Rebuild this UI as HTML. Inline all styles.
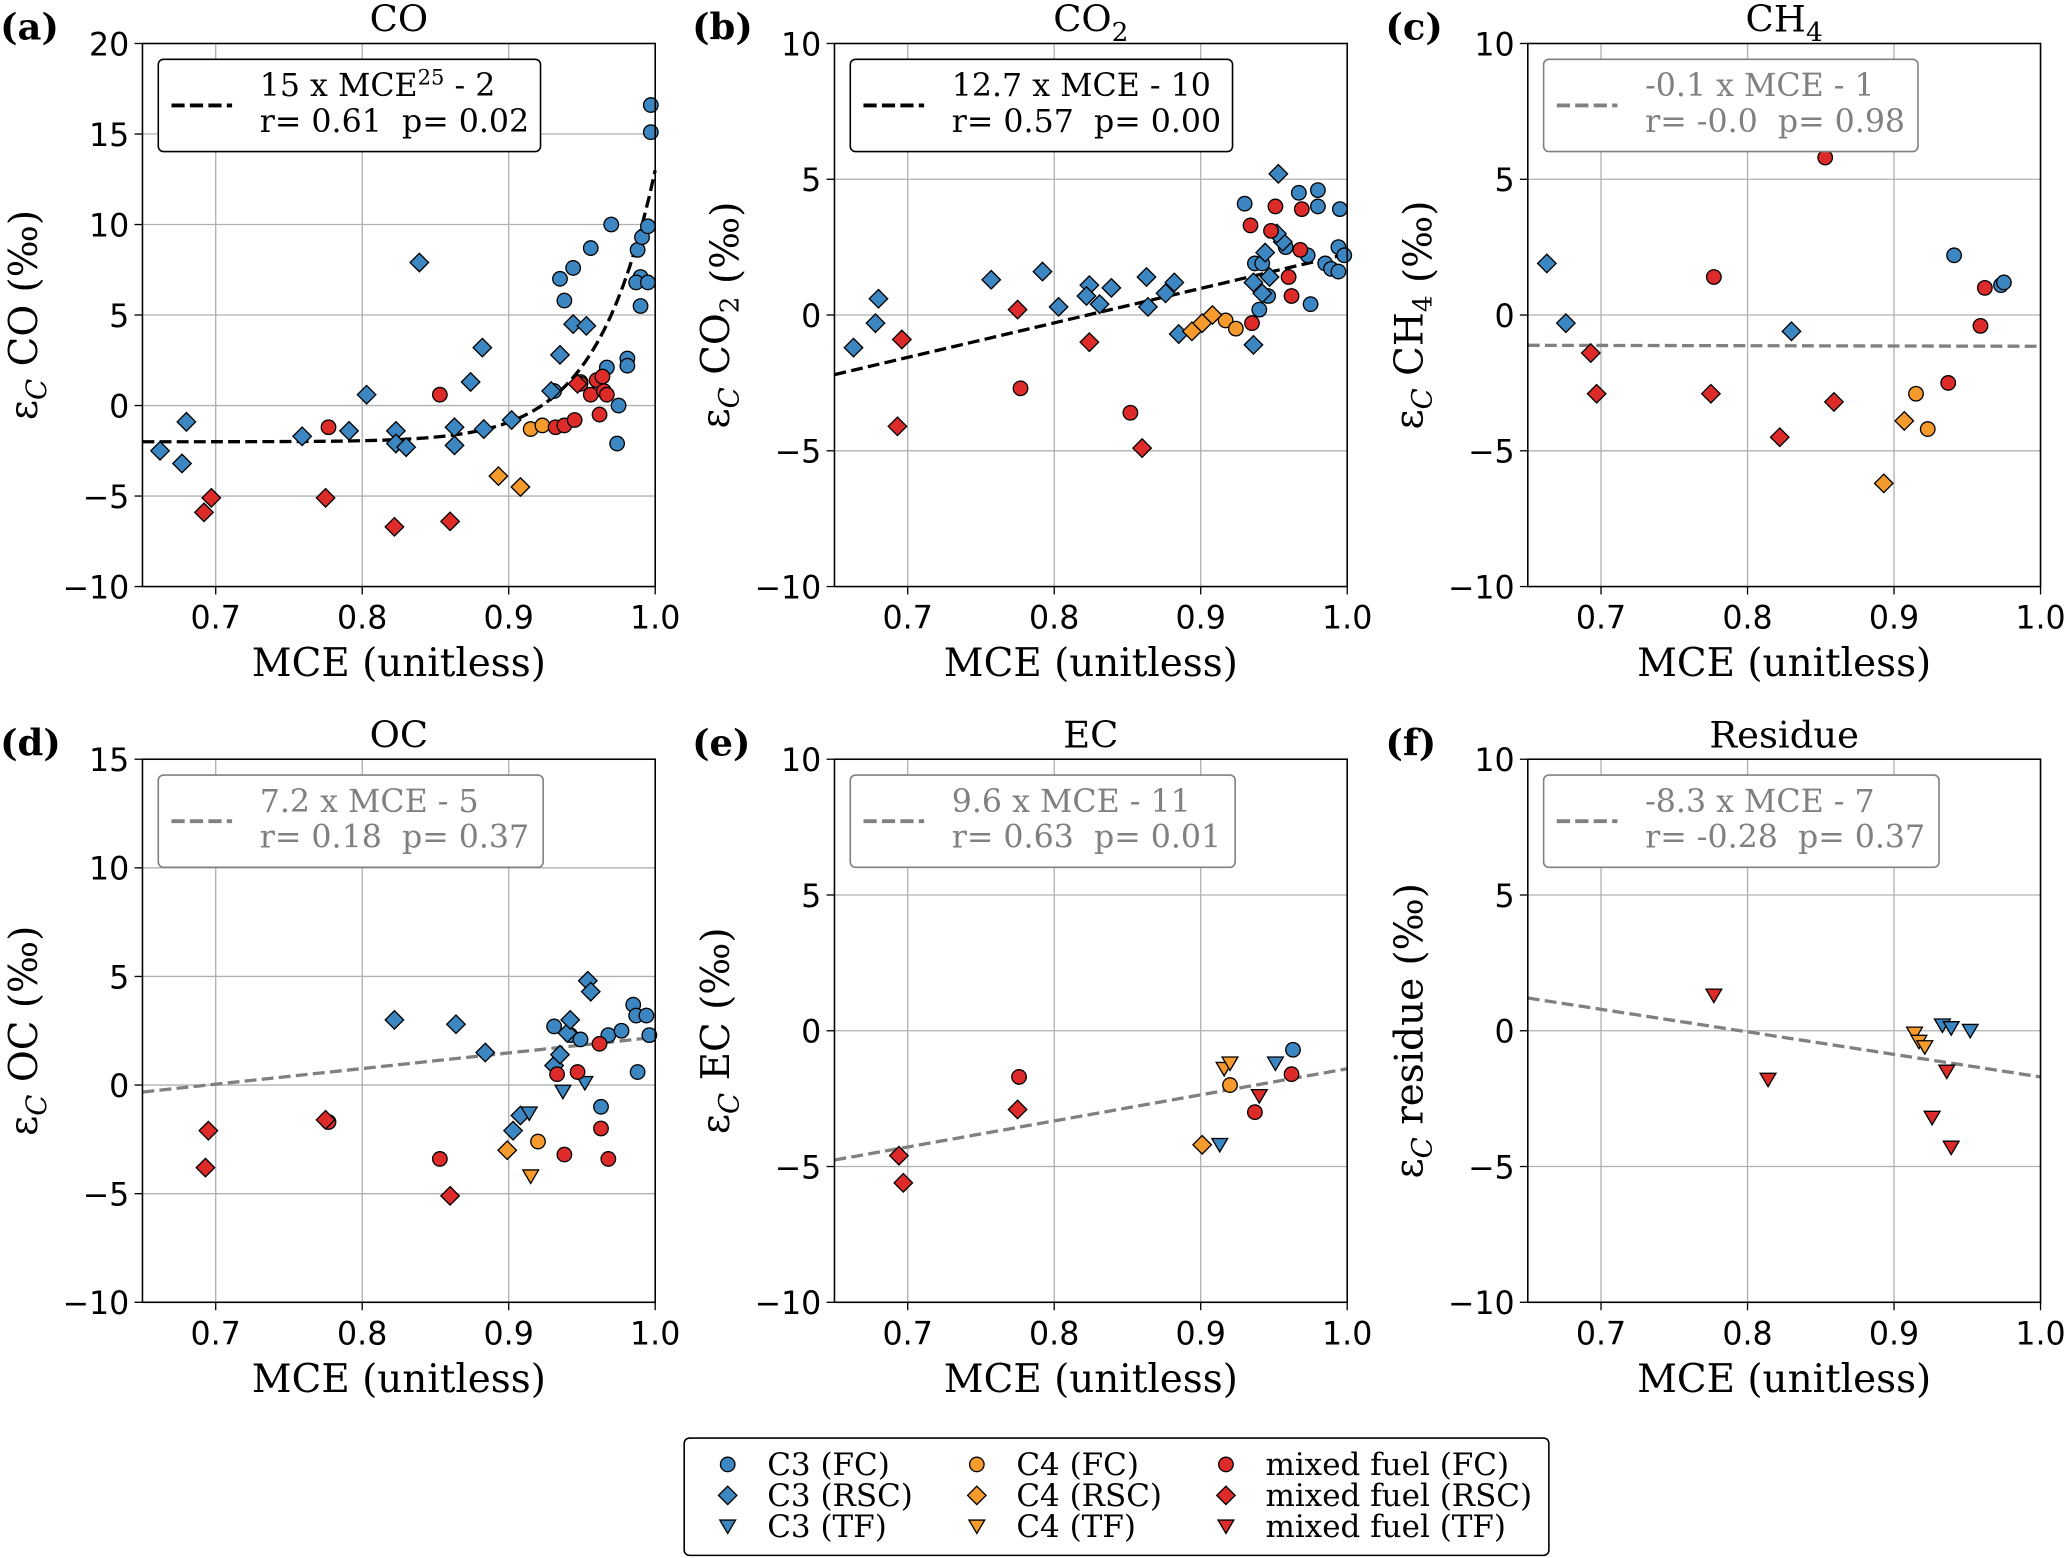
<!DOCTYPE html>
<html><head><meta charset="utf-8"><style>
html,body{margin:0;padding:0;background:#fff}
svg{display:block}
text{font-family:"DejaVu Serif","Liberation Serif",serif}
.tick{font-family:"DejaVu Sans","Liberation Sans",sans-serif;font-size:24px;fill:#000}
</style></head><body>
<svg id="chart" width="2067" height="1558" viewBox="0 0 1568 1182" xmlns="http://www.w3.org/2000/svg"></svg>
<script>
// ---- data: [MCE, value] ----
const coC3FC=[[.935,7.0],[.944,7.6],[.938,5.8],[.956,8.7],[.970,10.0],[.931,0.8],[.949,1.3],[.967,2.1],[.981,2.6],[.981,2.2],[.974,-2.1],[.975,0],[.988,8.6],[.991,9.3],[.990,7.1],[.987,6.8],[.995,6.8],[.990,5.5],[.995,9.9],[.997,16.6],[.997,15.1]];
const coC3RSC=[[.662,-2.5],[.680,-0.9],[.677,-3.2],[.759,-1.7],[.803,0.6],[.791,-1.4],[.823,-1.4],[.823,-2.1],[.830,-2.3],[.839,7.9],[.863,-1.2],[.863,-2.2],[.874,1.3],[.882,3.2],[.883,-1.3],[.902,-0.8],[.935,2.8],[.929,0.8],[.944,4.5],[.953,4.4]];
const coC4FC=[[.915,-1.3],[.923,-1.1]];
const coC4RSC=[[.893,-3.9],[.908,-4.5]];
const coMixFC=[[.777,-1.2],[.853,0.6],[.932,-1.2],[.938,-1.1],[.945,-0.8],[.949,1.2],[.956,0.6],[.960,1.4],[.964,1.6],[.965,0.8],[.967,0.6],[.962,-0.5]];
const coMixRSC=[[.692,-5.9],[.697,-5.1],[.775,-5.1],[.822,-6.7],[.860,-6.4],[.947,1.2]];

const co2C3RSC=[[.663,-1.2],[.680,0.6],[.678,-0.3],[.757,1.3],[.792,1.6],[.803,0.3],[.824,1.1],[.822,0.7],[.831,0.4],[.839,1.0],[.863,1.4],[.864,0.3],[.876,0.8],[.882,1.2],[.885,-0.7],[.936,-1.1],[.953,5.2],[.956,2.7],[.947,1.4],[.942,0.8],[.936,1.2],[.944,2.3],[.952,3.0]];
const co2C3FC=[[.930,4.1],[.967,4.5],[.980,4.6],[.980,4.0],[.995,3.9],[.973,2.2],[.975,0.4],[.937,1.9],[.940,0.2],[.985,1.9],[.989,1.7],[.994,1.6],[.994,2.5],[.998,2.2],[.942,1.9],[.946,0.7],[.958,2.5]];
const co2C4FC=[[.917,-0.2],[.924,-0.5]];
const co2C4RSC=[[.894,-0.6],[.901,-0.3],[.908,0.0]];
const co2MixFC=[[.777,-2.7],[.852,-3.6],[.934,3.3],[.951,4.0],[.948,3.1],[.935,-0.3],[.960,1.4],[.969,3.9],[.962,0.7],[.968,2.4]];
const co2MixRSC=[[.696,-0.9],[.693,-4.1],[.775,0.2],[.824,-1.0],[.860,-4.9]];

const ch4C3RSC=[[.663,1.9],[.676,-0.3],[.830,-0.6]];
const ch4C3FC=[[.941,2.2],[.973,1.1],[.975,1.2]];
const ch4C4FC=[[.915,-2.9],[.923,-4.2]];
const ch4C4RSC=[[.907,-3.9],[.893,-6.2]];
const ch4MixFC=[[.777,1.4],[.853,5.8],[.937,-2.5],[.962,1.0],[.959,-0.4]];
const ch4MixRSC=[[.693,-1.4],[.697,-2.9],[.775,-2.9],[.822,-4.5],[.859,-3.2]];

const ocC3RSC=[[.822,3.0],[.864,2.8],[.884,1.5],[.903,-2.1],[.908,-1.4],[.931,0.9],[.935,1.4],[.940,2.4],[.942,3.0],[.954,4.8],[.956,4.3]];
const ocC3FC=[[.931,2.7],[.942,2.3],[.949,2.1],[.968,2.3],[.977,2.5],[.985,3.7],[.987,3.2],[.994,3.2],[.996,2.3],[.988,0.6],[.963,-1.0]];
const ocC3TF=[[.914,-1.3],[.937,-0.3],[.952,0.1]];
const ocC4FC=[[.920,-2.6]];
const ocC4RSC=[[.899,-3.0]];
const ocC4TF=[[.915,-4.2]];
const ocMixFC=[[.777,-1.7],[.853,-3.4],[.933,0.5],[.938,-3.2],[.947,0.6],[.962,1.9],[.963,-2.0],[.968,-3.4]];
const ocMixRSC=[[.695,-2.1],[.693,-3.8],[.775,-1.6],[.860,-5.1]];

const ecC3TF=[[.913,-4.2],[.951,-1.2]];
const ecC3FC=[[.963,-0.7]];
const ecC4FC=[[.920,-2.0]];
const ecC4RSC=[[.901,-4.2]];
const ecC4TF=[[.916,-1.4],[.920,-1.2]];
const ecMixFC=[[.776,-1.7],[.937,-3.0],[.962,-1.6]];
const ecMixRSC=[[.694,-4.6],[.697,-5.6],[.775,-2.9]];
const ecMixTF=[[.940,-2.4]];

const resC3TF=[[.933,0.2],[.939,0.1],[.952,0.0]];
const resC4TF=[[.914,-0.1],[.917,-0.4],[.921,-0.6]];
const resMixTF=[[.777,1.3],[.814,-1.8],[.926,-3.2],[.936,-1.5],[.939,-4.3]];

const xTicks=[0.7,0.8,0.9,1.0];
const xTickLabels=["0.7","0.8","0.9","1.0"];

const BLUE="#3c86c1",ORANGE="#f59a2c",RED="#dc2b28";
const svg=document.getElementById('chart');
const NS="http://www.w3.org/2000/svg";
function mk(tag,attrs,parent){const e=document.createElementNS(NS,tag);for(const k in attrs)e.setAttribute(k,attrs[k]);(parent||svg).appendChild(e);return e;}

function marker(g,shape,cx,cy,color){
  let e;
  if(shape==='o'){e=mk('circle',{cx:cx,cy:cy,r:5.5,fill:color,stroke:'#000','stroke-width':1},g);}
  else if(shape==='d'){const s=7;e=mk('polygon',{points:`${cx},${cy-s} ${cx+s},${cy} ${cx},${cy+s} ${cx-s},${cy}`,fill:color,stroke:'#000','stroke-width':1},g);}
  else {const s=6;e=mk('polygon',{points:`${cx-s},${cy-s*0.8} ${cx+s},${cy-s*0.8} ${cx},${cy+s*0.9}`,fill:color,stroke:'#000','stroke-width':1},g);}
  return e;
}

function panel(p){
  const g=mk('g',{});
  
  
  const L=p.x0,R=p.x0+389,T=p.y0,B=p.y0+412;
  const xs=v=>L+(v-0.65)/0.35*(R-L);
  const ys=v=>B-(v-p.ymin)/(p.ymax-p.ymin)*(B-T);
  xTicks.forEach((t,i)=>{
    const gl=mk('line',{x1:xs(t),x2:xs(t),y1:T,y2:B,stroke:'#b0b0b0','stroke-width':1},g);
    
    
    mk('line',{x1:xs(t),x2:xs(t),y1:B,y2:B+6,stroke:'#000','stroke-width':1},g);
    const tl=mk('text',{x:xs(t),y:B+32,'text-anchor':'middle',class:'tick'},g);tl.textContent=xTickLabels[i];
    
    
  });
  for(let t=p.ymin;t<=p.ymax;t+=5){
    if(t>p.ymin&&t<p.ymax){const gl=mk('line',{x1:L,x2:R,y1:ys(t),y2:ys(t),stroke:'#b0b0b0','stroke-width':1},g);
      
      }
    mk('line',{x1:L-6,x2:L,y1:ys(t),y2:ys(t),stroke:'#000','stroke-width':1},g);
    const tl=mk('text',{x:L-10,y:ys(t)+9,'text-anchor':'end',class:'tick'},g);tl.textContent=(t<0?'\u2212':'')+Math.abs(t);
    
    
  }
  const fx=[];for(let i=0;i<=80;i++){const x=0.65+0.35*i/80;fx.push(x);}
  const pts=fx.map(x=>[xs(x),ys(p.fit(x))]).filter(q=>q[1]>=T&&q[1]<=B);
  const fl=mk('polyline',{points:pts.map(q=>q.join(',')).join(' '),fill:'none',stroke:p.fitColor,'stroke-width':2.5,'stroke-dasharray':'9,4'},g);
  
  
  p.series.forEach(s=>{
    s.data.forEach(d=>{
      const m=marker(g,s.shape,xs(d[0]),ys(d[1]),s.color);
      
      
    });
  });
  const fr=mk('rect',{x:L,y:T,width:R-L,height:B-T,fill:'none',stroke:'#000','stroke-width':1.2},g);
  
  
  const ab=mk('g',{},g);
  
  
  mk('rect',{x:L+12,y:T+12,width:p.boxW,height:70,rx:4,fill:'#fff',stroke:p.boxStroke,'stroke-width':1.2},ab);
  mk('line',{x1:L+22,x2:L+68,y1:T+47,y2:T+47,stroke:p.fitColor,'stroke-width':3,'stroke-dasharray':'10,4'},ab);
  const t1=mk('text',{x:L+89,y:T+40,'font-size':24,fill:p.textColor},ab);t1.innerHTML=p.eq;
  const t2=mk('text',{x:L+89,y:T+67,'font-size':24,fill:p.textColor},ab);t2.textContent=p.stats.replace('  ','\u00a0 ');
  const tt=mk('text',{x:(L+R)/2,y:T-9,'text-anchor':'middle','font-size':28},g);tt.innerHTML=p.title;
  
  
  const lt=mk('text',{x:L-108,y:T-3,'font-size':28,'font-weight':'bold'},g);lt.textContent=p.letter;
  
  
  const xl=mk('text',{x:(L+R)/2,y:B+68,'text-anchor':'middle','font-size':29.5},g);xl.textContent='MCE (unitless)';
  
  
  const yl=mk('text',{x:0,y:0,'text-anchor':'middle','font-size':29.5,transform:`translate(${L-80},${(T+B)/2}) rotate(-90)`},g);
  yl.innerHTML='ε<tspan font-style="italic" font-size="21" dy="7">C</tspan><tspan dy="-7"> '+p.ylab+' (‰)</tspan>';
  
  
}
const S=(name,shape,color,data)=>({name,shape,color,data});
const blk={fitColor:'#000',boxStroke:'#000',textColor:'#000'};
const gry={fitColor:'#808080',boxStroke:'#808080',textColor:'#808080'};
panel(Object.assign({id:'co',letter:'(a)',title:'CO',ylab:'CO',x0:108,y0:33,ymin:-10,ymax:20,boxW:290,
  eq:'15 x MCE<tspan dy="-9" font-size="16">25</tspan><tspan dy="9"> - 2</tspan>',stats:'r= 0.61  p= 0.02',fit:x=>15*Math.pow(x,25)-2,
  series:[S('c3-fc','o',BLUE,coC3FC),S('c3-rsc','d',BLUE,coC3RSC),S('c4-fc','o',ORANGE,coC4FC),S('c4-rsc','d',ORANGE,coC4RSC),S('mixed-fc','o',RED,coMixFC),S('mixed-rsc','d',RED,coMixRSC)]},blk));
panel(Object.assign({id:'co2',letter:'(b)',title:'CO<tspan font-size="20" dy="7">2</tspan>',ylab:'CO<tspan font-size="20" dy="7">2</tspan><tspan dy="-7"></tspan>',x0:633,y0:33,ymin:-10,ymax:10,boxW:290,
  eq:'12.7 x MCE - 10',stats:'r= 0.57  p= 0.00',fit:x=>12.7*x-10.45,
  series:[S('c3-fc','o',BLUE,co2C3FC),S('c3-rsc','d',BLUE,co2C3RSC),S('c4-fc','o',ORANGE,co2C4FC),S('c4-rsc','d',ORANGE,co2C4RSC),S('mixed-fc','o',RED,co2MixFC),S('mixed-rsc','d',RED,co2MixRSC)]},blk));
panel(Object.assign({id:'ch4',letter:'(c)',title:'CH<tspan font-size="20" dy="7">4</tspan>',ylab:'CH<tspan font-size="20" dy="7">4</tspan><tspan dy="-7"></tspan>',x0:1159,y0:33,ymin:-10,ymax:10,boxW:284,
  eq:'-0.1 x MCE - 1',stats:'r= -0.0  p= 0.98',fit:x=>-0.1*x-1.05,
  series:[S('c3-fc','o',BLUE,ch4C3FC),S('c3-rsc','d',BLUE,ch4C3RSC),S('c4-fc','o',ORANGE,ch4C4FC),S('c4-rsc','d',ORANGE,ch4C4RSC),S('mixed-fc','o',RED,ch4MixFC),S('mixed-rsc','d',RED,ch4MixRSC)]},gry));
panel(Object.assign({id:'oc',letter:'(d)',title:'OC',ylab:'OC',x0:108,y0:576,ymin:-10,ymax:15,boxW:292,
  eq:'7.2 x MCE - 5',stats:'r= 0.18  p= 0.37',fit:x=>7.2*x-5,
  series:[S('c3-fc','o',BLUE,ocC3FC),S('c3-rsc','d',BLUE,ocC3RSC),S('c3-tf','v',BLUE,ocC3TF),S('c4-fc','o',ORANGE,ocC4FC),S('c4-rsc','d',ORANGE,ocC4RSC),S('c4-tf','v',ORANGE,ocC4TF),S('mixed-fc','o',RED,ocMixFC),S('mixed-rsc','d',RED,ocMixRSC)]},gry));
panel(Object.assign({id:'ec',letter:'(e)',title:'EC',ylab:'EC',x0:633,y0:576,ymin:-10,ymax:10,boxW:292,
  eq:'9.6 x MCE - 11',stats:'r= 0.63  p= 0.01',fit:x=>9.6*x-11,
  series:[S('c3-fc','o',BLUE,ecC3FC),S('c3-tf','v',BLUE,ecC3TF),S('c4-fc','o',ORANGE,ecC4FC),S('c4-rsc','d',ORANGE,ecC4RSC),S('c4-tf','v',ORANGE,ecC4TF),S('mixed-fc','o',RED,ecMixFC),S('mixed-rsc','d',RED,ecMixRSC),S('mixed-tf','v',RED,ecMixTF)]},gry));
panel(Object.assign({id:'residue',letter:'(f)',title:'Residue',ylab:'residue',x0:1159,y0:576,ymin:-10,ymax:10,boxW:300,
  eq:'-8.3 x MCE - 7',stats:'r= -0.28  p= 0.37',fit:x=>-8.3*x+6.6,
  series:[S('c3-tf','v',BLUE,resC3TF),S('c4-tf','v',ORANGE,resC4TF),S('mixed-tf','v',RED,resMixTF)]},gry));

const lg=mk('g',{});


mk('rect',{x:519,y:1091,width:656,height:89,rx:4,fill:'#fff',stroke:'#000','stroke-width':1.2},lg);
const legCols=[[BLUE,'C3'],[ORANGE,'C4'],[RED,'mixed fuel']];
const legRows=[['o','FC'],['d','RSC'],['v','TF']];
const colX=[552,741,930];
legCols.forEach((c,ci)=>legRows.forEach((r,ri)=>{
  const y=1111+ri*23.5;
  const m=marker(lg,r[0],colX[ci],y,c[0]);
  
  
  const t=mk('text',{x:colX[ci]+30,y:y+8,'font-size':23.5},lg);t.textContent=c[1]+' ('+r[1]+')';
  
  
}));
</script>
</body></html>
